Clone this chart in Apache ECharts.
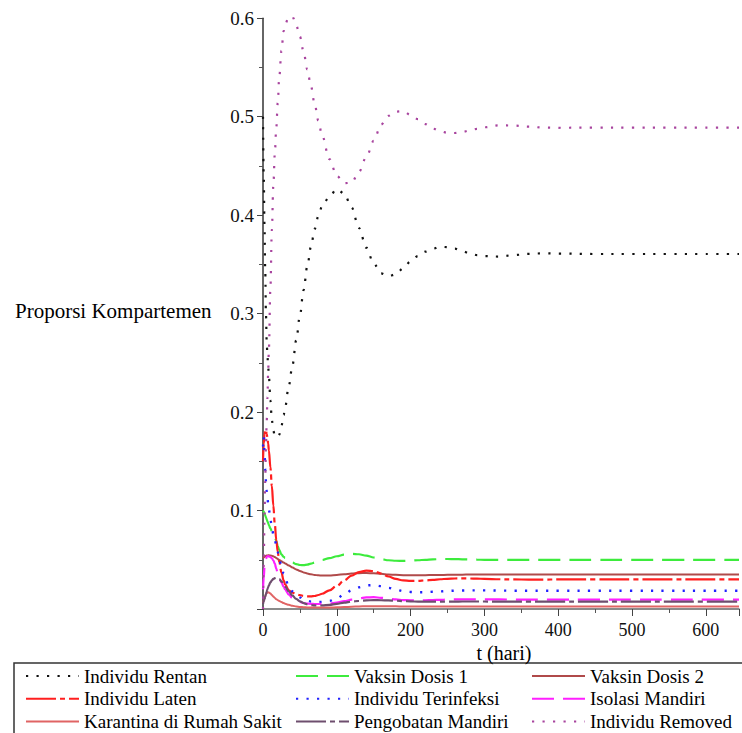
<!DOCTYPE html>
<html>
<head>
<meta charset="utf-8">
<script src="https://cdn.jsdelivr.net/npm/echarts@6/dist/echarts.min.js"></script>
<style>html,body{margin:0;padding:0;background:#fff}#c{width:742px;height:733px}</style>
</head>
<body>
<div id="c"></div>
<script>
// time (days)
const T = [0,1,2,3,4,5,6,7,8,10,12,14,16,18,20,22,25,28,30,35,40,45,50,55,60,65,70,75,80,90,100,110,120,130,140,150,160,170,180,190,200,210,220,230,240,250,260,270,280,290,300,320,340,360,380,400,450,500,550,600,645];

const rentan = [0.50,0.44,0.39,0.345,0.30,0.272,0.257,0.246,0.236,0.212,0.192,0.181,0.176,0.1745,0.1745,0.177,0.186,0.197,0.205,0.227,0.248,0.273,0.298,0.324,0.348,0.368,0.386,0.399,0.409,0.419,0.4265,0.422,0.408,0.387,0.367,0.351,0.341,0.338,0.340,0.346,0.353,0.3585,0.363,0.366,0.368,0.3675,0.366,0.3635,0.3613,0.3595,0.3585,0.358,0.3595,0.3607,0.3613,0.361,0.3606,0.3606,0.3606,0.3606,0.3606];

const vaksin1 = [0.1,0.099,0.097,0.095,0.093,0.091,0.089,0.087,0.085,0.082,0.079,0.076,0.073,0.069,0.064,0.06,0.0555,0.053,0.0518,0.0494,0.0472,0.0456,0.0447,0.0446,0.0451,0.046,0.0472,0.0485,0.0497,0.0517,0.0536,0.0552,0.056,0.0556,0.0542,0.0523,0.0506,0.0495,0.049,0.0489,0.0491,0.0495,0.05,0.0504,0.0507,0.0508,0.0507,0.0505,0.0503,0.0501,0.05,0.0499,0.0499,0.05,0.05,0.05,0.05,0.05,0.05,0.05,0.05];

const vaksin2 = [0.0515,0.0523,0.053,0.0535,0.054,0.0543,0.0544,0.0545,0.0545,0.0543,0.054,0.0535,0.0527,0.0518,0.0508,0.0498,0.0485,0.0472,0.0463,0.0442,0.0421,0.0402,0.0386,0.0372,0.036,0.0352,0.0346,0.0342,0.034,0.0341,0.0346,0.0353,0.036,0.0364,0.0365,0.0362,0.0357,0.0351,0.0347,0.0344,0.0343,0.0343,0.0344,0.0345,0.0346,0.0347,0.0348,0.0349,0.035,0.035,0.0351,0.0351,0.0351,0.0351,0.0351,0.0351,0.0351,0.0351,0.0351,0.0351,0.0351];

const laten = [0.15,0.168,0.178,0.182,0.181,0.178,0.174,0.168,0.161,0.144,0.125,0.105,0.086,0.07,0.058,0.048,0.037,0.029,0.025,0.019,0.0165,0.015,0.014,0.0133,0.0128,0.0128,0.0132,0.0142,0.0155,0.019,0.0235,0.029,0.034,0.0375,0.039,0.0385,0.036,0.033,0.0305,0.029,0.0285,0.0286,0.029,0.0296,0.0302,0.0307,0.031,0.0311,0.031,0.0308,0.0306,0.0302,0.03,0.0299,0.0299,0.03,0.03,0.03,0.03,0.03,0.03];

const terinfeksi = [0.165,0.175,0.16,0.142,0.13,0.12,0.113,0.107,0.101,0.091,0.083,0.076,0.07,0.065,0.058,0.051,0.043,0.036,0.031,0.0225,0.0178,0.0145,0.0118,0.0096,0.0083,0.0075,0.0071,0.007,0.0072,0.0082,0.0108,0.0148,0.019,0.022,0.024,0.0243,0.0232,0.0215,0.0196,0.0181,0.0173,0.017,0.0171,0.0175,0.0179,0.0183,0.0186,0.0188,0.0189,0.0189,0.0189,0.0187,0.0186,0.0186,0.0186,0.0186,0.0186,0.0186,0.0186,0.0186,0.0186];

const isolasi = [0.02,0.032,0.042,0.048,0.051,0.0528,0.0535,0.0537,0.0535,0.0528,0.0515,0.0495,0.046,0.041,0.036,0.0318,0.027,0.0225,0.0198,0.0145,0.011,0.0086,0.0071,0.0061,0.0055,0.0052,0.0051,0.0051,0.0052,0.0056,0.0065,0.0079,0.0095,0.0109,0.0118,0.012,0.0114,0.0105,0.0097,0.0091,0.0088,0.0088,0.0089,0.0091,0.0093,0.0095,0.0097,0.0098,0.0098,0.0098,0.0097,0.0097,0.0096,0.0096,0.0096,0.0096,0.0096,0.0096,0.0096,0.0096,0.0096];

const karantina = [0.006,0.0085,0.011,0.0132,0.015,0.0162,0.0168,0.0169,0.0167,0.0157,0.0142,0.0126,0.0112,0.01,0.009,0.0081,0.007,0.006,0.0054,0.0042,0.0032,0.0026,0.0021,0.0018,0.0016,0.0015,0.0014,0.0014,0.0014,0.0015,0.0017,0.002,0.0023,0.0026,0.0028,0.0029,0.0029,0.0028,0.0027,0.0026,0.0025,0.0025,0.0025,0.0025,0.0025,0.0025,0.0025,0.0025,0.0025,0.0025,0.0025,0.0025,0.0025,0.0025,0.0025,0.0025,0.0025,0.0025,0.0025,0.0025,0.0025];

const pengobatan = [0.005,0.0075,0.01,0.0125,0.015,0.0175,0.02,0.022,0.024,0.027,0.029,0.0305,0.0313,0.0316,0.0314,0.0305,0.028,0.025,0.0228,0.0178,0.0135,0.0102,0.0078,0.006,0.0048,0.004,0.0036,0.0035,0.0036,0.0042,0.0052,0.0064,0.0075,0.0083,0.0088,0.009,0.0089,0.0087,0.0084,0.008,0.0077,0.0075,0.0074,0.0074,0.0074,0.0075,0.0075,0.0076,0.0076,0.0076,0.0076,0.0075,0.0075,0.0075,0.0075,0.0075,0.0075,0.0075,0.0075,0.0075,0.0075];

const removed = [0,0.045,0.09,0.13,0.165,0.19,0.215,0.24,0.265,0.325,0.385,0.43,0.462,0.489,0.514,0.54,0.567,0.587,0.594,0.6015,0.6015,0.593,0.5815,0.566,0.548,0.531,0.513,0.496,0.481,0.457,0.44,0.4325,0.433,0.444,0.459,0.4755,0.492,0.501,0.5052,0.5056,0.5018,0.4975,0.4925,0.488,0.4853,0.4837,0.4835,0.4845,0.486,0.4877,0.4893,0.4913,0.491,0.49,0.489,0.4888,0.489,0.489,0.489,0.489,0.489];

const xTicks = [0,100,200,300,400,500,600];
const yTicks = [0.1,0.2,0.3,0.4,0.5,0.6];

const FONT = '"Liberation Serif","Times New Roman",serif';
const DOT = [2.2, 8.3];
const DASH = [22, 9];
const LONGSHORT = [30, 4, 5, 4];

const seriesDefs = [
  {name:'Individu Rentan', data:rentan, color:'#111111', type:DOT, width:2.2},
  {name:'Vaksin Dosis 1', data:vaksin1, color:'#3DEB3D', type:DASH, width:2.2},
  {name:'Vaksin Dosis 2', data:vaksin2, color:'#B04A4A', type:'solid', width:2},
  {name:'Individu Laten', data:laten, color:'#FF1F1F', type:LONGSHORT, width:2.2},
  {name:'Individu Terinfeksi', data:terinfeksi, color:'#2020FF', type:DOT, width:2.4},
  {name:'Isolasi Mandiri', data:isolasi, color:'#FF1FFF', type:DASH, width:2.2},
  {name:'Karantina di Rumah Sakit', data:karantina, color:'#E06464', type:'solid', width:2},
  {name:'Pengobatan Mandiri', data:pengobatan, color:'#6E4E6E', type:LONGSHORT, width:2.2},
  {name:'Individu Removed', data:removed, color:'#A8449E', type:DOT, width:2.2}
];

const chart = echarts.init(document.getElementById('c'), null, {renderer:'svg'});

const legendCommon = {
  orient:'vertical', top:666, height:90, padding:0,
  itemWidth:53, itemHeight:14, itemGap:2.8,
  selectedMode:false,
  itemStyle:{opacity:0},
  textStyle:{fontFamily:FONT, fontSize:19, color:'#000', lineHeight:20}
};

chart.setOption({
  animation:false,
  backgroundColor:'#ffffff',
  grid:{left:263, right:0, top:18.3, bottom:124, containLabel:false},
  xAxis:{
    type:'value', min:0, max:645, interval:100,
    axisLine:{show:true, lineStyle:{color:'#666', width:1.5}},
    axisTick:{show:true, length:7, lineStyle:{color:'#444', width:1}},
    minorTick:{show:true, splitNumber:2, length:4, lineStyle:{color:'#555', width:1}},
    splitLine:{show:false}, minorSplitLine:{show:false},
    axisLabel:{fontFamily:FONT, fontSize:18, color:'#111', margin:12,
      formatter:v => xTicks.indexOf(v) >= 0 ? String(v) : ''}
  },
  yAxis:{
    type:'value', min:0, max:0.6, interval:0.1,
    axisLine:{show:true, lineStyle:{color:'#333', width:1.5}},
    axisTick:{show:true, length:6, lineStyle:{color:'#444', width:1}},
    minorTick:{show:true, splitNumber:2, length:4, lineStyle:{color:'#555', width:1}},
    splitLine:{show:false}, minorSplitLine:{show:false},
    axisLabel:{fontFamily:FONT, fontSize:19, color:'#111', margin:9,
      formatter:v => {const r = Math.round(v*10)/10; return yTicks.indexOf(r) >= 0 && v > 0.001 ? r.toFixed(1) : '';}}
  },
  legend:[
    Object.assign({}, legendCommon, {left:25, data:['Individu Rentan','Individu Laten','Karantina di Rumah Sakit']}),
    Object.assign({}, legendCommon, {left:295, data:['Vaksin Dosis 1','Individu Terinfeksi','Pengobatan Mandiri']}),
    Object.assign({}, legendCommon, {left:531, data:['Vaksin Dosis 2','Isolasi Mandiri','Individu Removed']})
  ],
  graphic:[
    {type:'rect', silent:true, z:-1, shape:{x:14, y:663, width:740, height:80},
      style:{fill:'none', stroke:'#333', lineWidth:1.5}},
    {type:'text', silent:true, style:{text:'t (hari)', x:504, y:653, align:'center', verticalAlign:'middle',
      fontFamily:FONT, fontSize:20, fill:'#000'}},
    {type:'text', silent:true, style:{text:'Proporsi Kompartemen', x:15, y:311, align:'left', verticalAlign:'middle',
      fontFamily:FONT, fontSize:21, fill:'#000'}}
  ],
  series: seriesDefs.map(s => ({
    name:s.name, type:'line', showSymbol:false, symbol:'none',
    smooth:0.35, smoothMonotone:'x', clip:true,
    data: T.map((t,i) => [t, s.data[i]]),
    lineStyle:{color:s.color, width:s.width, type:s.type},
    itemStyle:{color:s.color},
    emphasis:{disabled:true}
  }))
});
</script>
</body>
</html>
